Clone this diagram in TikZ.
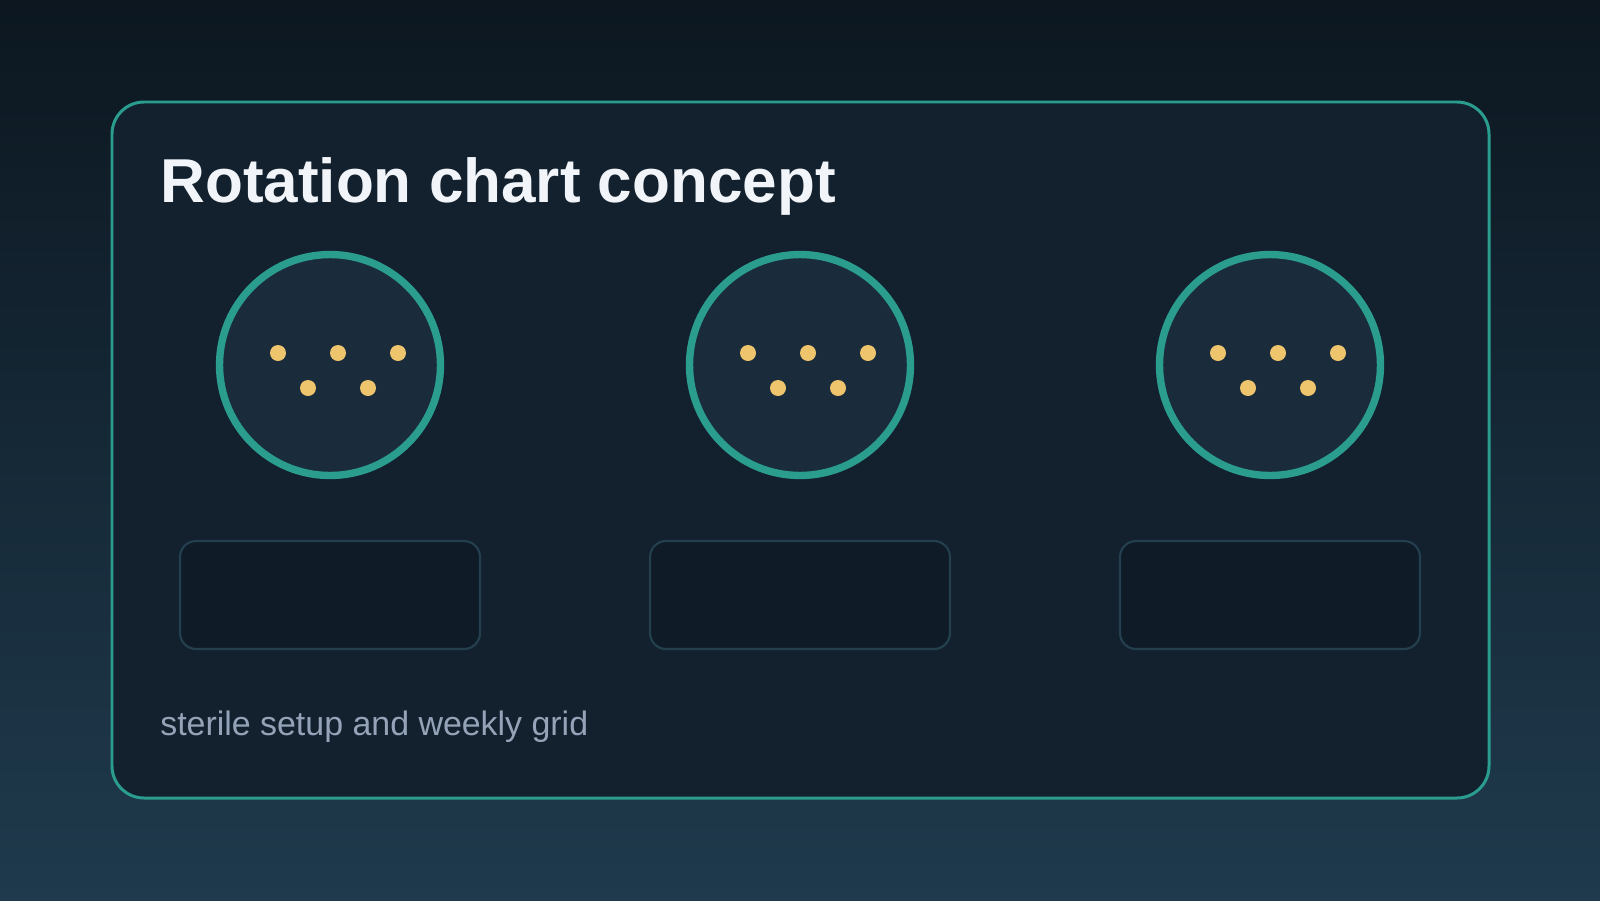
\documentclass[tikz,border=0pt]{standalone}
\usepackage{fontspec}
\setmainfont{Liberation Sans}
\usetikzlibrary{positioning}

\definecolor{bgtop}{HTML}{0C1720}
\definecolor{bgbot}{HTML}{1F3A4D}
\definecolor{cardfill}{HTML}{13212E}
\definecolor{teal}{HTML}{2A9D8F}
\definecolor{dishfill}{HTML}{1A2C3B}
\definecolor{dotyellow}{HTML}{EEC46C}
\definecolor{slotfill}{HTML}{0F1C28}
\definecolor{slotline}{HTML}{24404F}
\definecolor{titlecol}{HTML}{F1F5F9}
\definecolor{subcol}{HTML}{94A3B8}

\tikzset{
  card/.style = {draw=teal, fill=cardfill, line width=1.7pt, rounded corners=0.64cm},
  dish/.style = {circle, draw=teal, fill=dishfill, line width=4.2pt,
                 minimum size=4.42cm, inner sep=0pt},
  spot/.style = {circle, fill=dotyellow, minimum size=0.32cm, inner sep=0pt},
  slot/.style = {draw=slotline, fill=slotfill, line width=1.2pt, rounded corners=0.32cm,
                 minimum width=6cm, minimum height=2.16cm, inner sep=0pt},
}

\begin{document}
\begin{tikzpicture}[x=0.02cm, y=-0.02cm]
    % Background
    \shade[top color=bgtop, bottom color=bgbot] (0,0) rectangle (1600,900);
    \useasboundingbox (0,0) rectangle (1600,900);

    % Card
    \draw[card] (112,102) rectangle (1489,798);

    % Title
    \node[anchor=base west, inner sep=0pt, text=titlecol,
          font=\fontsize{35.3pt}{42pt}\selectfont\bfseries] (title) at (160,202) {Rotation chart concept};

    % Dishes, spots and slots
    \foreach \n/\x in {1/330, 2/800, 3/1270} {
        \node[dish] (dish\n) at (\x,365) {};
        \foreach \dx/\dy [count=\k] in {-52/-12, 8/-12, 68/-12, -22/23, 38/23}
            \node[spot] (spot\n\k) at (\x+\dx,365+\dy) {};
        \node[slot] (slot\n) at (\x,595) {};
    }

    % Caption
    \node[anchor=base west, inner sep=0pt, text=subcol,
          font=\fontsize{19.3pt}{23pt}\selectfont] (caption) at (160,735) {sterile setup and weekly grid};
\end{tikzpicture}
\end{document}
